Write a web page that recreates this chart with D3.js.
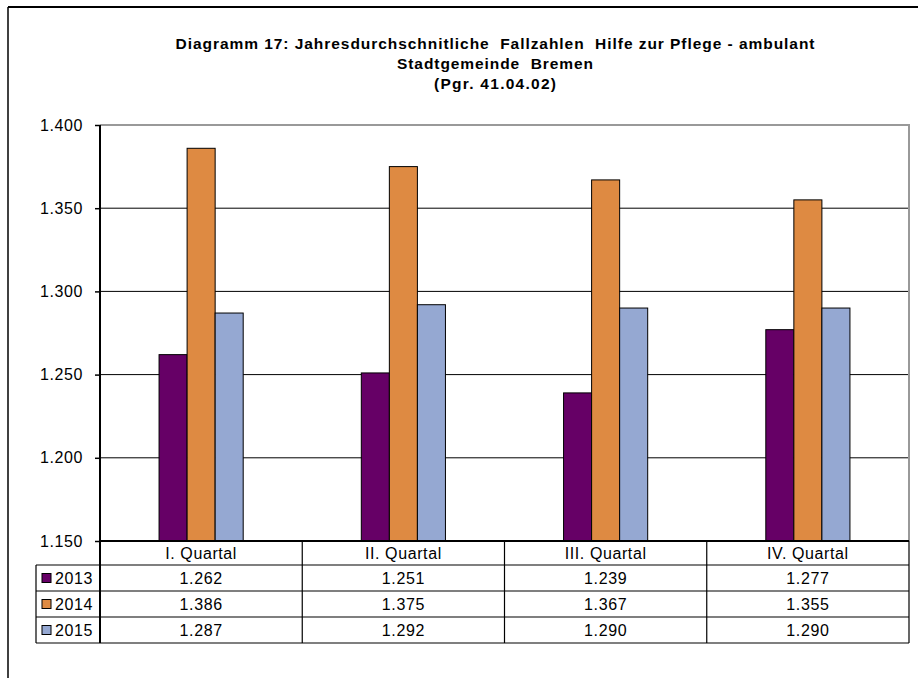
<!DOCTYPE html>
<html>
<head>
<meta charset="utf-8">
<script src="https://cdn.jsdelivr.net/npm/d3@7"></script>
<style>
  body { margin: 0; background: #fff; }
  svg { display: block; }
  text { font-family: "Liberation Sans", Arial, sans-serif; }
</style>
</head>
<body>
<svg id="chart" width="918" height="678"></svg>
<script>
const quarters = ["I. Quartal", "II. Quartal", "III. Quartal", "IV. Quartal"];
const years = ["2013", "2014", "2015"];
const values2013 = [1262, 1251, 1239, 1277];
const values2014 = [1386, 1375, 1367, 1355];
const values2015 = [1287, 1292, 1290, 1290];
const yTicks = [1150, 1200, 1250, 1300, 1350, 1400];
const colors = ["#660066", "#DE8A42", "#95A8D2"];
const titleLines = [
  "Diagramm 17: Jahresdurchschnitliche  Fallzahlen  Hilfe zur Pflege - ambulant",
  "Stadtgemeinde  Bremen",
  "(Pgr. 41.04.02)"
];
const titleWidths = [639, 196, 122];

const series = [values2013, values2014, values2015];

const de = d3.formatLocale({ decimal: ",", thousands: ".", grouping: [3], currency: ["", " €"] });
const fmt = de.format(",d");

const svg = d3.select("#chart");

// plot area in pixels
const pLeft = 100, pRight = 909, pTop = 125, pBottom = 541;
const rowH = 26, headH = 24, tableLeft = 36;

// outer frame (only top and left edges are visible)
svg.append("line").attr("x1", 8).attr("x2", 918).attr("y1", 7).attr("y2", 7)
  .attr("stroke", "#000").attr("stroke-width", 2);
svg.append("line").attr("x1", 8).attr("x2", 8).attr("y1", 7).attr("y2", 678)
  .attr("stroke", "#000").attr("stroke-width", 1.5);

// title
svg.append("g").selectAll("text")
  .data(titleLines)
  .join("text")
  .attr("x", 495)
  .attr("y", (d, i) => 49 + i * 20)
  .attr("text-anchor", "middle")
  .attr("font-weight", "bold")
  .attr("font-size", 15.5)
  .attr("fill", "#000")
  .attr("xml:space", "preserve")
  .style("white-space", "pre")
  .attr("textLength", (d, i) => titleWidths[i])
  .attr("lengthAdjust", "spacing")
  .text(d => d);

const x = d3.scaleBand().domain(quarters).range([pLeft, pRight]).padding(0);
const bw = x.bandwidth();
const xInner = d3.scaleBand().domain(years).range([bw * 0.292, bw * 0.708]).padding(0);
const y = d3.scaleLinear().domain([1150, 1400]).range([pBottom, pTop]);

// gridlines
svg.append("g").selectAll("line")
  .data(yTicks.filter(t => t > 1150 && t < 1400))
  .join("line")
  .attr("x1", pLeft).attr("x2", pRight)
  .attr("y1", d => y(d)).attr("y2", d => y(d))
  .attr("stroke", "#000").attr("stroke-width", 1);

// plot area border (top and right, grey)
svg.append("path")
  .attr("d", `M${pLeft},${pTop}H${pRight}V${pBottom}`)
  .attr("fill", "none").attr("stroke", "#999").attr("stroke-width", 2);

// bars
const groups = svg.append("g").selectAll("g")
  .data(years)
  .join("g")
  .attr("fill", (d, i) => colors[i]);

groups.selectAll("rect")
  .data((yr, si) => quarters.map((q, qi) => ({ q, yr, v: series[si][qi] })))
  .join("rect")
  .attr("x", d => x(d.q) + xInner(d.yr))
  .attr("y", d => y(d.v))
  .attr("width", xInner.bandwidth())
  .attr("height", d => pBottom - y(d.v))
  .attr("stroke", "#000").attr("stroke-width", 1);

// y axis
const yAxis = svg.append("g")
  .attr("transform", `translate(${pLeft},0)`)
  .call(d3.axisLeft(y).tickValues(yTicks).tickSize(5).tickPadding(12).tickFormat(fmt));
yAxis.select(".domain").remove();
yAxis.selectAll(".tick line").attr("stroke", "#000").attr("stroke-width", 1.5);
yAxis.selectAll(".tick text")
  .attr("font-family", "'Liberation Sans', Arial, sans-serif")
  .attr("font-size", 16).attr("fill", "#000").attr("letter-spacing", 0.6);

svg.append("line").attr("x1", pLeft).attr("x2", pLeft).attr("y1", pTop).attr("y2", pBottom + headH + rowH * 3)
  .attr("stroke", "#000").attr("stroke-width", 2);
svg.append("line").attr("x1", pLeft).attr("x2", pRight).attr("y1", pBottom).attr("y2", pBottom)
  .attr("stroke", "#000").attr("stroke-width", 2);

// data table
const table = svg.append("g");
const tBottom = pBottom + headH + rowH * 3;

// horizontal lines
table.selectAll("line.h")
  .data(d3.range(4))
  .join("line")
  .attr("class", "h")
  .attr("x1", tableLeft).attr("x2", pRight)
  .attr("y1", i => pBottom + headH + i * rowH).attr("y2", i => pBottom + headH + i * rowH)
  .attr("stroke", "#000").attr("stroke-width", 1.2);

// vertical lines
table.selectAll("line.v")
  .data(quarters.slice(1).map(q => x(q)).concat([pRight]))
  .join("line")
  .attr("class", "v")
  .attr("x1", d => d).attr("x2", d => d)
  .attr("y1", pBottom).attr("y2", tBottom)
  .attr("stroke", "#000").attr("stroke-width", 1.2);
table.append("line")
  .attr("x1", tableLeft).attr("x2", tableLeft)
  .attr("y1", pBottom + headH).attr("y2", tBottom)
  .attr("stroke", "#000").attr("stroke-width", 1.2);

// header
table.selectAll("text.head")
  .data(quarters)
  .join("text")
  .attr("class", "head")
  .attr("x", d => x(d) + bw / 2)
  .attr("y", pBottom + headH / 2 + 6)
  .attr("text-anchor", "middle")
  .attr("font-size", 16).attr("letter-spacing", 0.6)
  .text(d => d);

// rows
const rows = table.selectAll("g.row")
  .data(years)
  .join("g")
  .attr("class", "row")
  .attr("transform", (d, i) => `translate(0,${pBottom + headH + i * rowH})`);

rows.append("rect")
  .attr("x", 42).attr("y", rowH / 2 - 4.5)
  .attr("width", 9).attr("height", 9)
  .attr("fill", (d, i) => colors[i])
  .attr("stroke", "#000").attr("stroke-width", 1);

rows.append("text")
  .attr("x", 55).attr("y", rowH / 2 + 6)
  .attr("font-size", 16).attr("letter-spacing", 0.6)
  .text(d => d);

rows.selectAll("text.val")
  .data((yr, si) => quarters.map((q, qi) => ({ q, v: series[si][qi] })))
  .join("text")
  .attr("class", "val")
  .attr("x", d => x(d.q) + bw / 2)
  .attr("y", rowH / 2 + 6)
  .attr("text-anchor", "middle")
  .attr("font-size", 16).attr("letter-spacing", 0.6)
  .text(d => fmt(d.v));
</script>
</body>
</html>
